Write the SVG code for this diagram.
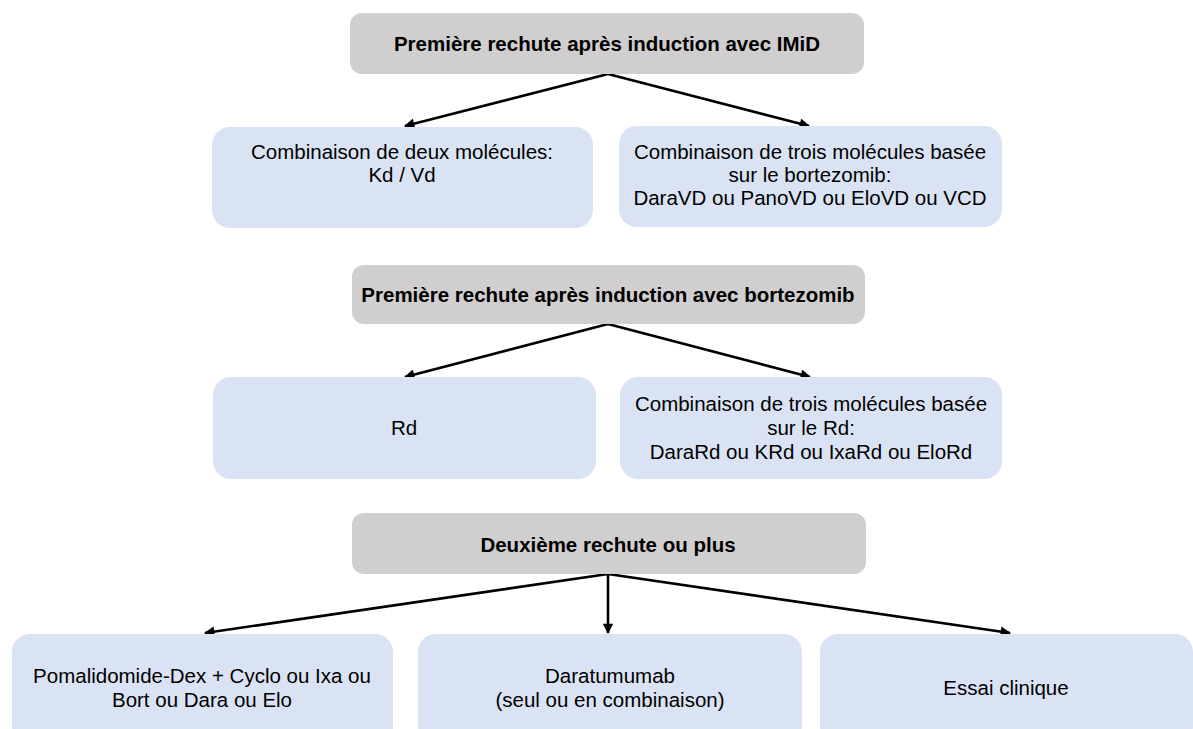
<svg xmlns="http://www.w3.org/2000/svg" width="1193" height="729" viewBox="0 0 1193 729">
<defs>
<style>
.g{fill:#D0CECE}
.b{fill:#DAE3F3}
.t{font-family:"Liberation Sans",Arial,sans-serif;font-size:20.5px;fill:#000;text-anchor:middle}
.h{font-weight:bold}
.c{stroke:#000;stroke-width:2.6;fill:none;marker-end:url(#ah)}
</style>
<marker id="ah" viewBox="0 0 10 10" refX="9" refY="5" markerWidth="4.5" markerHeight="4" orient="auto" markerUnits="strokeWidth">
<path d="M0,0 L10,5 L0,10 z" fill="#000"/>
</marker>
</defs>
<rect width="1193" height="729" fill="#fff"/>
<g id="connectors">
<line class="c" x1="608" y1="74" x2="405" y2="126"/>
<line class="c" x1="608" y1="74" x2="809" y2="126"/>
<line class="c" x1="608" y1="324" x2="405" y2="377"/>
<line class="c" x1="608" y1="324" x2="810" y2="377"/>
<line class="c" x1="608" y1="574" x2="205" y2="633"/>
<line class="c" x1="608" y1="574" x2="608" y2="633"/>
<line class="c" x1="608" y1="574" x2="1010" y2="633"/>
</g>
<g id="n1"><rect class="g" x="350" y="13" width="514" height="61" rx="12"/><text class="t h" x="607" y="51">Première rechute après induction avec IMiD</text></g>
<g id="n2"><rect class="b" x="212" y="127" width="381" height="101" rx="18"/><text class="t" x="402" y="159">Combinaison de deux molécules:</text><text class="t" x="402" y="182">Kd / Vd</text></g>
<g id="n3"><rect class="b" x="619" y="126" width="383" height="101" rx="18"/><text class="t" x="810" y="159">Combinaison de trois molécules basée</text><text class="t" x="810" y="182">sur le bortezomib:</text><text class="t" x="810" y="205">DaraVD ou PanoVD ou EloVD ou VCD</text></g>
<g id="n4"><rect class="g" x="352" y="265" width="513" height="59" rx="12"/><text class="t h" x="608" y="302">Première rechute après induction avec bortezomib</text></g>
<g id="n5"><rect class="b" x="213" y="377" width="383" height="102" rx="18"/><text class="t" x="404" y="435">Rd</text></g>
<g id="n6"><rect class="b" x="620" y="377" width="382" height="102" rx="18"/><text class="t" x="811" y="411">Combinaison de trois molécules basée</text><text class="t" x="811" y="435">sur le Rd:</text><text class="t" x="811" y="459">DaraRd ou KRd ou IxaRd ou EloRd</text></g>
<g id="n7"><rect class="g" x="352" y="513" width="514" height="61" rx="12"/><text class="t h" x="608" y="552">Deuxième rechute ou plus</text></g>
<g id="n8"><rect class="b" x="12" y="634" width="381" height="110" rx="18"/><text class="t" x="202" y="683">Pomalidomide-Dex + Cyclo ou Ixa ou</text><text class="t" x="202" y="707">Bort ou Dara ou Elo</text></g>
<g id="n9"><rect class="b" x="418" y="634" width="384" height="110" rx="18"/><text class="t" x="610" y="683">Daratumumab</text><text class="t" x="610" y="707">(seul ou en combinaison)</text></g>
<g id="n10"><rect class="b" x="820" y="634" width="373" height="110" rx="18"/><text class="t" x="1006" y="695">Essai clinique</text></g>
</svg>
